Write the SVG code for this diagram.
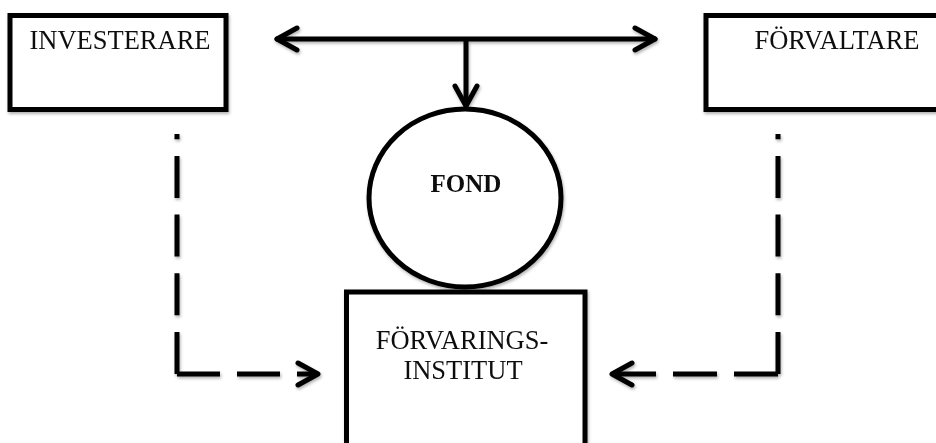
<svg xmlns="http://www.w3.org/2000/svg" width="936" height="443" viewBox="0 0 936 443">
<defs>
<style>
.box{fill:#fff;stroke:#000;stroke-width:5}
.lbl{font-family:"Liberation Serif","Times New Roman",serif;font-size:26.5px;fill:#111;text-anchor:middle}
.bold{font-weight:bold;font-size:25px}
.line{fill:none;stroke:#000;stroke-width:5}
.dash{stroke-dasharray:42 16.7}
</style>
<filter id="sh" x="-10%" y="-10%" width="120%" height="130%">
<feDropShadow dx="1" dy="2" stdDeviation="1.5" flood-color="#000" flood-opacity="0.3"/>
</filter>
<marker id="ah" viewBox="-25 -14 30 28" refX="0" refY="0" markerWidth="30" markerHeight="28" markerUnits="userSpaceOnUse" orient="auto-start-reverse">
<polyline points="-20,-11 0,0 -20,11" fill="none" stroke="#000" stroke-width="5" stroke-linecap="round" stroke-linejoin="round" stroke-dasharray="none"/>
</marker>
</defs>
<rect width="936" height="443" fill="#fff"/>
<g id="connectors" filter="url(#sh)">
<path class="line" d="M277,39 H655" marker-start="url(#ah)" marker-end="url(#ah)" stroke-linecap="round"/>
<path class="line" d="M466,39 V106" marker-end="url(#ah)"/>
<path class="line dash" d="M177,374 V134"/>
<path class="line" d="M177,374 H318" stroke-dasharray="43 17" marker-end="url(#ah)"/>
<path class="line dash" d="M778,374 V134"/>
<path class="line" d="M778,374 H612" stroke-dasharray="44 17" marker-end="url(#ah)"/>
</g>
<g id="investerare" filter="url(#sh)">
<rect class="box" x="10" y="15.5" width="216" height="94"/>
<text class="lbl" x="120" y="49">INVESTERARE</text>
</g>
<g id="forvaltare" filter="url(#sh)">
<rect class="box" x="706" y="15.5" width="240" height="94"/>
<text class="lbl" x="837" y="49">FÖRVALTARE</text>
</g>
<g id="fond" filter="url(#sh)">
<ellipse class="box" cx="465" cy="198" rx="96" ry="89"/>
<text class="lbl bold" x="466" y="192">FOND</text>
</g>
<g id="forvaringsinstitut" filter="url(#sh)">
<rect class="box" x="346.5" y="292" width="238.5" height="170"/>
<text class="lbl" x="462" y="349">FÖRVARINGS-</text>
<text class="lbl" x="463" y="379">INSTITUT</text>
</g>
</svg>
